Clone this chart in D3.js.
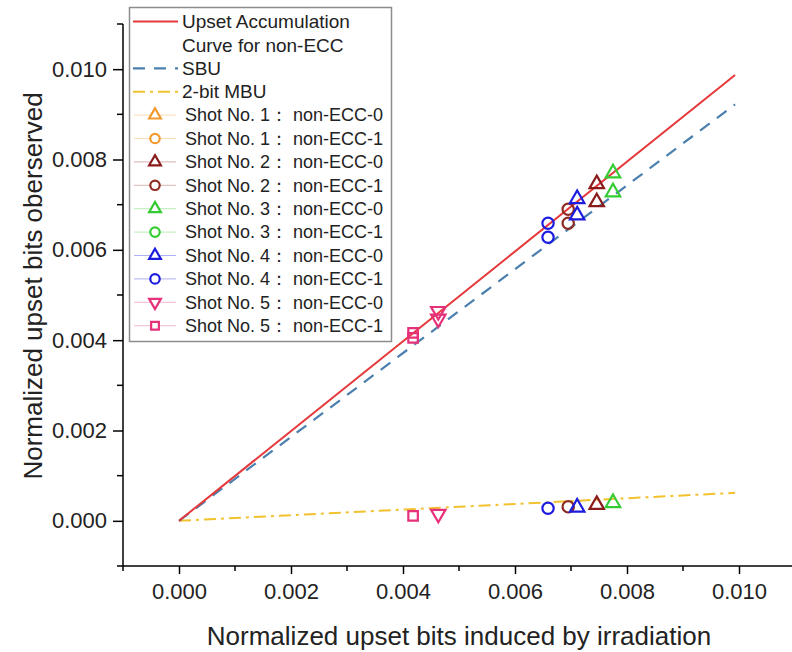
<!DOCTYPE html>
<html>
<head>
<meta charset="utf-8">
<script src="https://cdn.jsdelivr.net/npm/d3@7"></script>
<style>
    body { margin: 0; background: #fff; }
    svg { font-family: "Liberation Sans", Arial, sans-serif; }
    .axis path, .axis line { stroke: #000; stroke-width: 1.5; }
    .axis text { font-size: 22px; fill: #222; }
    .title { font-size: 26px; fill: #222; }
    .legend text { font-size: 18px; fill: #222; }
    .legend text.curve { font-size: 19px; }
</style>
</head>
<body>
<script>
// series
var seriesNames = ["Shot No. 1\uff1a non-ECC-0", "Shot No. 1\uff1a non-ECC-1",
                   "Shot No. 2\uff1a non-ECC-0", "Shot No. 2\uff1a non-ECC-1",
                   "Shot No. 3\uff1a non-ECC-0", "Shot No. 3\uff1a non-ECC-1",
                   "Shot No. 4\uff1a non-ECC-0", "Shot No. 4\uff1a non-ECC-1",
                   "Shot No. 5\uff1a non-ECC-0", "Shot No. 5\uff1a non-ECC-1"];
var seriesSymbols = ["triangle", "circle", "triangle", "circle", "triangle",
                     "circle", "triangle", "circle", "triangle-down", "square"];
var seriesColors = ["#f39a2e", "#f39a2e", "#8b1a1a", "#8e2b22", "#33cc33",
                    "#33cc33", "#1c1ce0", "#1c1ce0", "#e6307a", "#e6307a"];
// x = induced, then observed total / SBU / 2-bit MBU (null = not visible)
var inducedX = [null, null, 0.00746, 0.00695, 0.00775, null, 0.00711, 0.00659, 0.00463, 0.00418];
var totalY   = [null, null, 0.00748, 0.00690, 0.00772, null, 0.00715, 0.00659, 0.00462, 0.00416];
var sbuY     = [null, null, 0.00708, 0.00659, 0.00730, null, 0.00679, 0.00628, 0.00445, 0.00405];
var mbuY     = [null, null, 0.00038, 0.00031, 0.00042, null, 0.00032, 0.00028, 0.00013, 0.00011];

// fitted curves
var fitX      = [0, 0.00993];
var accumFitY = [0, 0.00987];
var sbuFitY   = [0, 0.00922];
var mbuFitY   = [0, 0.00062];

var curveNames = ["Upset Accumulation", "Curve for non-ECC", "SBU", "2-bit MBU"];
var xTicks = [0, 0.002, 0.004, 0.006, 0.008, 0.010];
var yTicks = [0, 0.002, 0.004, 0.006, 0.008, 0.010];
var minorTicks = [-0.001, 0.001, 0.003, 0.005, 0.007, 0.009, 0.011];

var width = 792, height = 652;

var svg = d3.select("body").append("svg")
        .attr("width", width)
        .attr("height", height);

var x = d3.scaleLinear().domain([-0.001, 0.011]).range([123, 795]);
var y = d3.scaleLinear().domain([-0.001, 0.011]).range([566, 24]);

var fmt = d3.format(".3f");

// axes
var xAxis = d3.axisBottom(x).tickValues(xTicks).tickFormat(fmt).tickSize(8).tickPadding(9);
var yAxis = d3.axisLeft(y).tickValues(yTicks).tickFormat(fmt).tickSize(10).tickPadding(6);

svg.append("g")
        .attr("class", "x axis")
        .attr("transform", "translate(0," + y(-0.001) + ")")
        .call(xAxis)
        .call(function (g) {
            g.select(".domain").attr("d", "M" + x(-0.001) + ",0H" + x(0.011));
        })
        .selectAll(".minor").data(minorTicks).enter()
        .append("line")
        .attr("class", "minor")
        .attr("x1", function (d) { return x(d); })
        .attr("x2", function (d) { return x(d); })
        .attr("y1", 0)
        .attr("y2", 5);

svg.append("g")
        .attr("class", "y axis")
        .attr("transform", "translate(" + x(-0.001) + ",0)")
        .call(yAxis)
        .call(function (g) {
            g.select(".domain").attr("d", "M0," + y(-0.001) + "V" + y(0.011));
        })
        .selectAll(".minor").data(minorTicks).enter()
        .append("line")
        .attr("class", "minor")
        .attr("y1", function (d) { return y(d); })
        .attr("y2", function (d) { return y(d); })
        .attr("x1", 0)
        .attr("x2", -6);

svg.append("text")
        .attr("class", "title")
        .attr("x", x(0.005))
        .attr("y", 645)
        .attr("text-anchor", "middle")
        .text("Normalized upset bits induced by irradiation");

svg.append("text")
        .attr("class", "title")
        .attr("transform", "translate(42," + y(0.0052) + ") rotate(-90)")
        .attr("text-anchor", "middle")
        .text("Normalized upset bits oberserved");

// fitted lines
var line = d3.line()
        .x(function (d) { return x(d[0]); })
        .y(function (d) { return y(d[1]); });

var fits = [
    {ys: mbuFitY, color: "#f2c12e", dash: "12,5,3,5", w: 2},
    {ys: sbuFitY, color: "#4a7fae", dash: "12,9", w: 2.2},
    {ys: accumFitY, color: "#e5383b", dash: null, w: 2}
];

var body = svg.append("g").attr("class", "body");

fits.forEach(function (f) {
    body.append("path")
            .datum(fitX.map(function (v, i) { return [v, f.ys[i]]; }))
            .attr("d", line)
            .attr("fill", "none")
            .attr("stroke", f.color)
            .attr("stroke-width", f.w)
            .attr("stroke-dasharray", f.dash);
});

// symbols
function symbolPath(type, size) {
    var t = {"triangle": d3.symbolTriangle, "circle": d3.symbolCircle,
             "square": d3.symbolSquare, "triangle-down": d3.symbolTriangle}[type];
    return d3.symbol().type(t).size(size)();
}

var points = [];
seriesNames.forEach(function (n, i) {
    if (inducedX[i] == null) return;
    [totalY[i], sbuY[i], mbuY[i]].forEach(function (v) {
        points.push({s: i, x: inducedX[i], y: v});
    });
});

body.selectAll("path.dot").data(points)
        .enter()
        .append("path")
        .attr("class", "dot")
        .attr("d", function (d) { return symbolPath(seriesSymbols[d.s], seriesSymbols[d.s] == "circle" ? 100 : 90); })
        .attr("transform", function (d) {
            var r = seriesSymbols[d.s] == "triangle-down" ? " rotate(180)" : "";
            var dy = seriesSymbols[d.s] == "triangle" ? 1 : (r ? -1 : 0);
            return "translate(" + x(d.x) + "," + (y(d.y) + dy) + ")" + r;
        })
        .attr("fill", "none")
        .attr("stroke", function (d) { return seriesColors[d.s]; })
        .attr("stroke-width", 2.2);

// legend
var legend = svg.append("g").attr("class", "legend");

legend.append("rect")
        .attr("x", 129.5)
        .attr("y", 7.5)
        .attr("width", 262)
        .attr("height", 334)
        .attr("fill", "#fff")
        .attr("stroke", "#8c8c8c")
        .attr("stroke-width", 1.5);

var rowY = function (i) { return 21.5 + i * 23.4; };
var textX = 182;

legend.append("line").attr("x1", 133).attr("x2", 178).attr("y1", rowY(0)).attr("y2", rowY(0))
        .attr("stroke", fits[2].color).attr("stroke-width", 2);
legend.append("line").attr("x1", 133).attr("x2", 178).attr("y1", rowY(2)).attr("y2", rowY(2))
        .attr("stroke", fits[1].color).attr("stroke-width", 2.2).attr("stroke-dasharray", "12,9");
legend.append("line").attr("x1", 133).attr("x2", 178).attr("y1", rowY(3)).attr("y2", rowY(3))
        .attr("stroke", fits[0].color).attr("stroke-width", 2).attr("stroke-dasharray", "12,5,3,5");

curveNames.forEach(function (n, i) {
    legend.append("text")
            .attr("class", "curve")
            .attr("x", textX)
            .attr("y", rowY(i))
            .attr("dy", "0.35em")
            .text(n);
});

seriesNames.forEach(function (n, i) {
    var ry = rowY(i + 4);
    legend.append("line")
            .attr("x1", 134).attr("x2", 176)
            .attr("y1", ry).attr("y2", ry)
            .attr("stroke", seriesColors[i])
            .attr("stroke-opacity", 0.35)
            .attr("stroke-width", 1);
    var r = seriesSymbols[i] == "triangle-down" ? " rotate(180)" : "";
    legend.append("path")
            .attr("d", symbolPath(seriesSymbols[i], seriesSymbols[i] == "circle" ? 70 : 60))
            .attr("transform", "translate(155," + ry + ")" + r)
            .attr("fill", "#fff")
            .attr("stroke", seriesColors[i])
            .attr("stroke-width", 2.2);
    legend.append("text")
            .attr("x", textX + 3)
            .attr("y", ry)
            .attr("dy", "0.35em")
            .text(n);
});
</script>
</body>
</html>
